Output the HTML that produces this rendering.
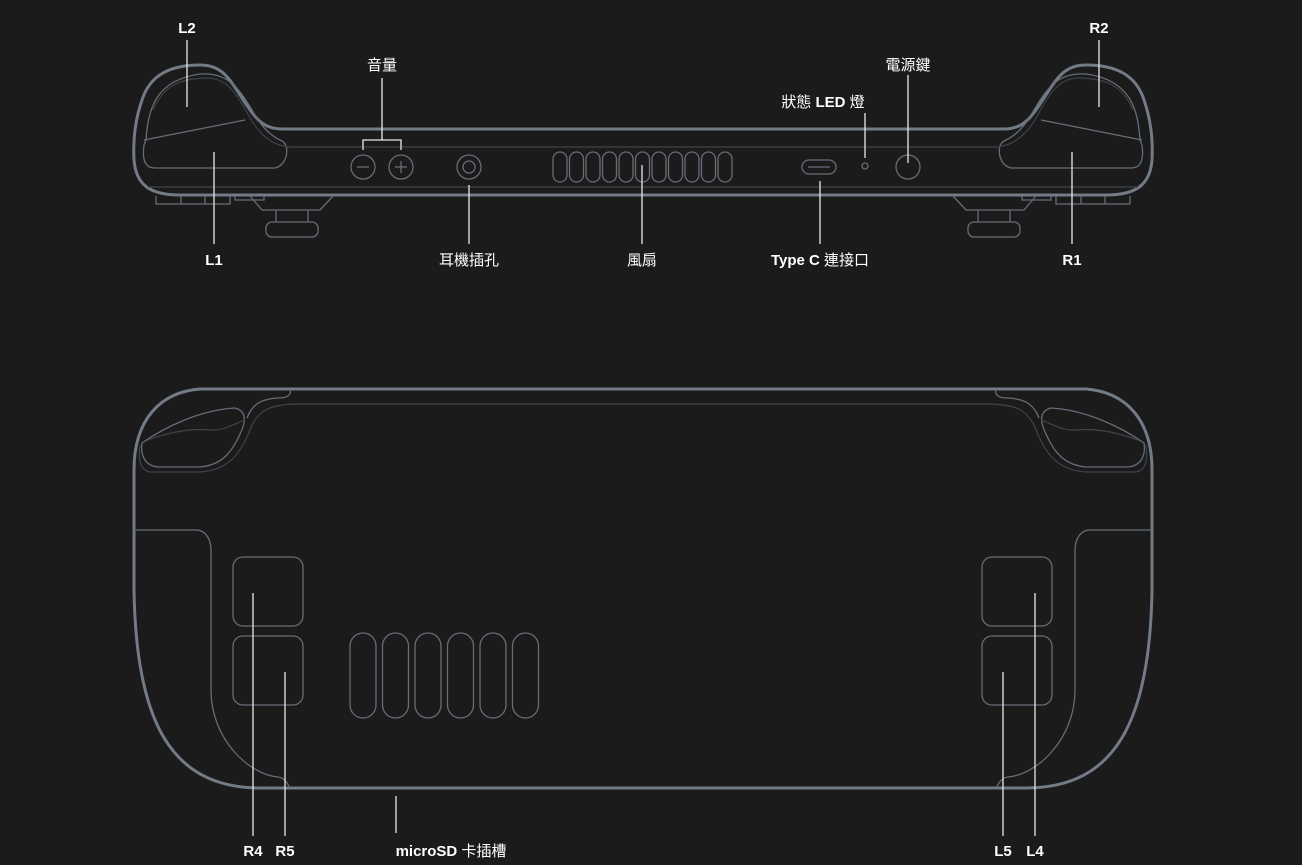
<!DOCTYPE html>
<html><head><meta charset="utf-8">
<style>
html,body{margin:0;padding:0;background:#1b1b1c;}
svg{display:block;}
text{font-family:"Liberation Sans","Noto Sans CJK TC",sans-serif;font-size:15px;fill:#fff;text-anchor:middle;font-weight:bold;}
.o{fill:none;stroke:#737b86;stroke-width:3;}
.i{fill:none;stroke:#666d77;stroke-width:1.3;}
.f{fill:none;stroke:#3f4349;stroke-width:1.2;}
.l{stroke:#e8e8e8;stroke-width:1.3;fill:none;}
.n{font-weight:normal;}
</style></head><body>
<svg width="1302" height="865" viewBox="0 0 1302 865" xmlns="http://www.w3.org/2000/svg">
<rect width="1302" height="865" fill="#1b1b1c"/>

<defs>
<g id="tl">
  <path class="o" d="M643 129 L282 129 C262 129 255 118 240 95 C228 76 220 65 200 65 C170 65 150 75 142 100 C135 120 133 140 134 160 C136 185 150 195 180 195 L643 195"/>
  <path class="i" d="M146 140 C148 110 155 80 200 74 C230 72 240 90 255 115 C265 132 275 138 282 141 C290 145 288 165 275 168 L155 168 C145 168 142 160 144 145 Z"/>
  <path class="f" d="M153 110 C165 82 185 79 205 78 C225 77 235 90 250 118 C262 138 275 146 290 147 L643 147"/>
  <line class="i" x1="144" y1="140" x2="245" y2="120"/>
  <line class="f" x1="148" y1="187" x2="643" y2="187"/>
  <path class="i" d="M156 196 L156 204 L230 204 L230 196 M181 196 L181 204 M205 196 L205 204"/>
  <path class="i" d="M235 196 L235 200 L264 200 L264 196"/>
  <path class="i" d="M250 196 L262 210 L320 210 L333 196"/>
  <path class="i" d="M276 210 L276 222 M308 210 L308 222"/>
  <rect class="i" x="266" y="222" width="52" height="15" rx="6"/>
</g>
</defs>
<use href="#tl"/>
<use href="#tl" transform="translate(1286,0) scale(-1,1)"/>

<circle class="i" cx="363" cy="167" r="12"/>
<circle class="i" cx="401" cy="167" r="12"/>
<line class="i" x1="357" y1="167" x2="369" y2="167"/>
<line class="i" x1="395" y1="167" x2="407" y2="167"/>
<line class="i" x1="401" y1="161" x2="401" y2="173"/>
<path class="l" d="M363 150 L363 140 L401 140 L401 150 M382 140 L382 78"/>
<circle class="i" cx="469" cy="167" r="12"/>
<circle class="i" cx="469" cy="167" r="6"/>
<line class="l" x1="469" y1="185" x2="469" y2="244"/>
<g class="i">
<rect x="553" y="152" width="14" height="30" rx="7"/>
<rect x="569.5" y="152" width="14" height="30" rx="7"/>
<rect x="586" y="152" width="14" height="30" rx="7"/>
<rect x="602.5" y="152" width="14" height="30" rx="7"/>
<rect x="619" y="152" width="14" height="30" rx="7"/>
<rect x="635.5" y="152" width="14" height="30" rx="7"/>
<rect x="652" y="152" width="14" height="30" rx="7"/>
<rect x="668.5" y="152" width="14" height="30" rx="7"/>
<rect x="685" y="152" width="14" height="30" rx="7"/>
<rect x="701.5" y="152" width="14" height="30" rx="7"/>
<rect x="718" y="152" width="14" height="30" rx="7"/>
</g>
<line class="l" x1="642" y1="165" x2="642" y2="244"/>
<rect class="i" x="802" y="160" width="34" height="14" rx="7"/>
<line class="i" x1="808" y1="167" x2="830" y2="167"/>
<line class="l" x1="820" y1="181" x2="820" y2="244"/>
<circle class="i" cx="865" cy="166" r="3"/>
<line class="l" x1="865" y1="113" x2="865" y2="158"/>
<circle class="i" cx="908" cy="167" r="12"/>
<line class="l" x1="908" y1="75" x2="908" y2="163"/>

<line class="l" x1="187" y1="40" x2="187" y2="107"/>
<line class="l" x1="214" y1="152" x2="214" y2="244"/>
<line class="l" x1="1099" y1="40" x2="1099" y2="107"/>
<line class="l" x1="1072" y1="152" x2="1072" y2="244"/>

<text x="187" y="33">L2</text>
<text x="1099" y="33">R2</text>
<text x="214" y="265">L1</text>
<text x="1072" y="265">R1</text>
<text x="382" y="70" class="n">音量</text>
<text x="908" y="70" class="n">電源鍵</text>
<text x="823" y="107"><tspan class="n">狀態</tspan> LED <tspan class="n">燈</tspan></text>
<text x="469" y="265" class="n">耳機插孔</text>
<text x="642" y="265" class="n">風扇</text>
<text x="820" y="265">Type C <tspan class="n">連接口</tspan></text>

<defs>
<g id="bl">
  <path class="o" d="M643 389 L200 389 C160 392 134 420 134 470 L134 590 C136 720 170 788 260 788 L643 788"/>
  <path class="i" d="M290 389 C292 396 286 398 278 398 C260 399 252 405 247 418"/>
  <path class="i" d="M235 408 C247 411 246 422 240 434 C232 452 222 465 200 467 L160 467 C145 467 140 455 142 443 C165 427 200 410 235 408 Z"/>
  <path class="f" d="M300 404 C270 404 260 410 252 425 C242 450 232 470 200 472 L150 472 C140 470 138 460 140 445 M148 440 C170 432 190 428 210 430 C222 431 232 425 245 420"/>
  <line class="f" x1="300" y1="404" x2="643" y2="404"/>
  <path class="i" d="M134 530 L196 530 C206 530 211 540 211 550 L211 690 C211 740 250 775 278 777 C285 778 287 783 290 788"/>
</g>
</defs>
<use href="#bl"/>
<use href="#bl" transform="translate(1286,0) scale(-1,1)"/>

<rect class="i" x="233" y="557" width="70" height="69" rx="10"/>
<rect class="i" x="233" y="636" width="70" height="69" rx="10"/>
<rect class="i" x="982" y="557" width="70" height="69" rx="10"/>
<rect class="i" x="982" y="636" width="70" height="69" rx="10"/>
<g class="i">
<rect x="350" y="633" width="26" height="85" rx="13"/>
<rect x="382.5" y="633" width="26" height="85" rx="13"/>
<rect x="415" y="633" width="26" height="85" rx="13"/>
<rect x="447.5" y="633" width="26" height="85" rx="13"/>
<rect x="480" y="633" width="26" height="85" rx="13"/>
<rect x="512.5" y="633" width="26" height="85" rx="13"/>
</g>
<line class="l" x1="253" y1="593" x2="253" y2="836"/>
<line class="l" x1="285" y1="672" x2="285" y2="836"/>
<line class="l" x1="396" y1="796" x2="396" y2="833"/>
<line class="l" x1="1035" y1="593" x2="1035" y2="836"/>
<line class="l" x1="1003" y1="672" x2="1003" y2="836"/>

<text x="253" y="856">R4</text>
<text x="285" y="856">R5</text>
<text x="451" y="856">microSD <tspan class="n">卡插槽</tspan></text>
<text x="1003" y="856">L5</text>
<text x="1035" y="856">L4</text>
</svg>
</body></html>
